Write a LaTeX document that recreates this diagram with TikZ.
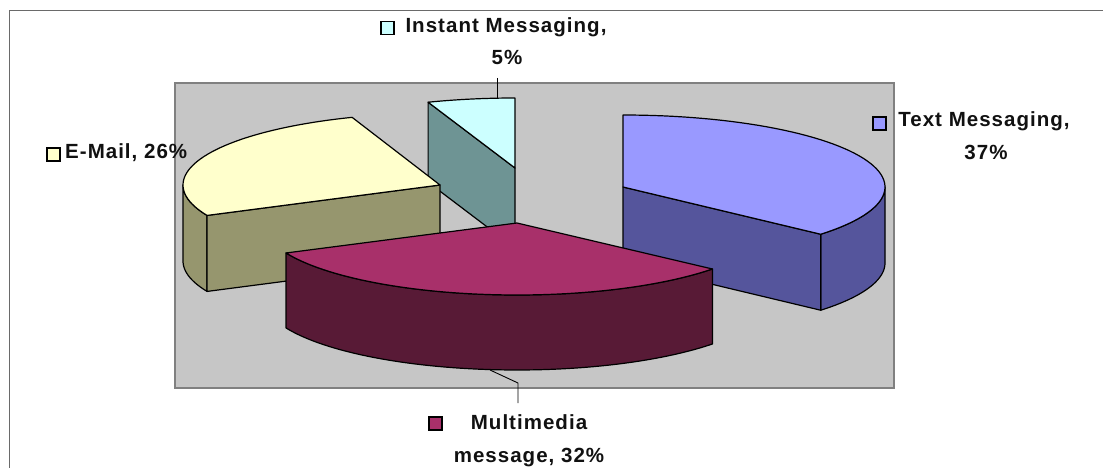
\documentclass[tikz,border=0pt]{standalone}
\usepackage{fontspec}
\newfontfamily\labelfont[LetterSpace=5]{Liberation Sans}

\definecolor{frameGray}{HTML}{6A6A6A}
\definecolor{areaFill}{HTML}{C6C6C6}
\definecolor{areaLine}{HTML}{808080}
\definecolor{iceTop}{HTML}{CCFFFF}
\definecolor{iceSide}{HTML}{6E9494}
\definecolor{creamTop}{HTML}{FFFFCC}
\definecolor{creamSide}{HTML}{96966E}
\definecolor{lilacTop}{HTML}{9999FF}
\definecolor{lilacSide}{HTML}{55559C}
\definecolor{plumTop}{HTML}{A8306A}
\definecolor{plumSide}{HTML}{581A36}
\definecolor{inkText}{HTML}{111111}

\tikzset{
  outline/.style={draw=black, line width=1.2pt, line join=round},
  keybox/.style={draw=black, line width=1.8pt, minimum size=13pt, inner sep=0pt},
  label/.style={inner sep=0pt, text=inkText, font=\labelfont\bfseries\fontsize{20.5}{24}\selectfont},
  leader/.style={draw=black, line width=0.9pt},
}

\begin{document}
\begin{tikzpicture}[x=1pt,y=-1pt]
\useasboundingbox (0,0) rectangle (1103,468);
\fill[white] (0,0) rectangle (1103,468);

% chart frame (top and left sides)
\draw[frameGray, line width=1pt] (9,468) -- (9,11) -- (1103,11);

% plot area
\filldraw[fill=areaFill, draw=areaLine, line width=2pt] (175,83) rectangle (894,388);

% --- Instant Messaging wedge (apex 515,168) ---
\filldraw[outline, fill=iceSide]
  (515,168) -- ({515+254*cos(110)},{168-70*sin(110)})
  -- ({515+254*cos(110)},{248-70*sin(110)}) -- (515,248) -- cycle;
\filldraw[outline, fill=iceTop]
  (515,168) -- plot[domain=90:110, samples=20] ({515+254*cos(\x)},{168-70*sin(\x)}) -- cycle;

% --- E-Mail wedge (apex 440,185) ---
\filldraw[outline, fill=creamSide]
  plot[domain=180:205, samples=20] ({440+257*cos(\x)},{185-72*sin(\x)})
  -- plot[domain=205:180, samples=20] ({440+257*cos(\x)},{261-72*sin(\x)}) -- cycle;
\filldraw[outline, fill=creamSide]
  (440,185) -- ({440+257*cos(205)},{185-72*sin(205)})
  -- ({440+257*cos(205)},{261-72*sin(205)}) -- (440,261) -- cycle;
\filldraw[outline, fill=creamTop]
  (440,185) -- plot[domain=110:205, samples=50] ({440+257*cos(\x)},{185-72*sin(\x)}) -- cycle;

% --- Text Messaging wedge (apex 623,187) ---
\filldraw[outline, fill=lilacSide]
  plot[domain=-41:0, samples=25] ({623+262*cos(\x)},{187-72*sin(\x)})
  -- plot[domain=0:-41, samples=25] ({623+262*cos(\x)},{263-72*sin(\x)}) -- cycle;
\filldraw[outline, fill=lilacSide]
  (623,187) -- ({623+262*cos(-41)},{187-72*sin(-41)})
  -- ({623+262*cos(-41)},{263-72*sin(-41)}) -- (623,263) -- cycle;
\filldraw[outline, fill=lilacTop]
  (623,187) -- plot[domain=-41:90, samples=60] ({623+262*cos(\x)},{187-72*sin(\x)}) -- cycle;

% --- Multimedia wedge (apex 517,223) ---
\filldraw[outline, fill=plumSide]
  plot[domain=-155.4:-39.7, samples=60] ({517+254*cos(\x)},{223-72*sin(\x)})
  -- plot[domain=-39.7:-155.4, samples=60] ({517+254*cos(\x)},{298-72*sin(\x)}) -- cycle;
\filldraw[outline, fill=plumTop]
  (517,223) -- plot[domain=-155.4:-39.7, samples=60] ({517+254*cos(\x)},{223-72*sin(\x)}) -- cycle;

% leader-line end points
\coordinate (imLead) at (497,78);
\coordinate (imTip) at (497,99);
\coordinate (mmTip) at (490,370);
\coordinate (mmBend) at (518,383);
\coordinate (mmLead) at (518,403);

\draw[leader] (imLead) -- (imTip);
\draw[leader] (mmTip) -- (mmBend) -- (mmLead);

% labels with legend keys
\node[keybox, fill=iceTop] (imKey) at (387.5,28) {};
\node[label, anchor=base] (imName) at (506,33) {Instant Messaging,};
\node[label, anchor=base] (imShare) at (507,65) {5\%};

\node[keybox, fill=creamTop] (emKey) at (53.3,154.2) {};
\node[label, anchor=base west] (emName) at (65,158) {E-Mail, 26\%};

\node[keybox, fill=lilacTop] (tmKey) at (879.2,123.3) {};
\node[label, anchor=base] (tmName) at (984,127) {Text Messaging,};
\node[label, anchor=base] (tmShare) at (986,160) {37\%};

\node[keybox, fill=plumTop] (mmKey) at (435.8,423.8) {};
\node[label, anchor=base] (mmName) at (529,429) {Multimedia};
\node[label, anchor=base] (mmShare) at (529,462) {message, 32\%};
\end{tikzpicture}
\end{document}
